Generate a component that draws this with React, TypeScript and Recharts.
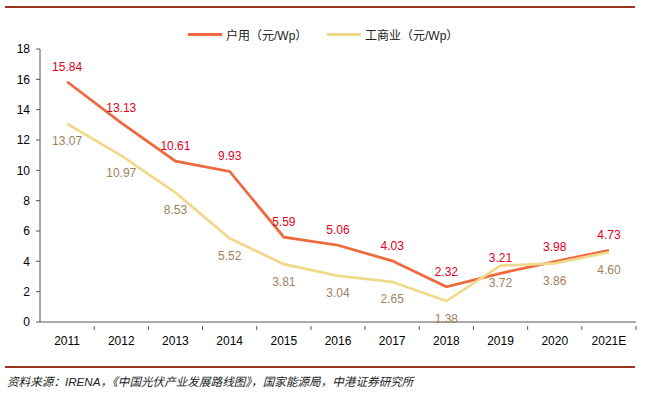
import { LabelList, Line, LineChart, XAxis, YAxis } from "recharts";

const years = ["2011", "2012", "2013", "2014", "2015", "2016", "2017", "2018", "2019", "2020", "2021E"];
const residential = [15.84, 13.13, 10.61, 9.93, 5.59, 5.06, 4.03, 2.32, 3.21, 3.98, 4.73];
const commercial = [13.07, 10.97, 8.53, 5.52, 3.81, 3.04, 2.65, 1.38, 3.72, 3.86, 4.6];
const yTicks = [0, 2, 4, 6, 8, 10, 12, 14, 16, 18];

const COLORS = {
  residential: "#ee6a3e",
  commercial: "#f1d98c",
  resLabel: "#e0001e",
  comLabel: "#a0815c",
  axis: "#555555",
  rule: "#9e3320",
};

const FONT = 'Arial, "Liberation Sans", "Noto Sans CJK SC", sans-serif';
const CHART_W = 645;
const PLOT_LEFT = 40;
const PLOT_RIGHT = 636;
const BAND = (PLOT_RIGHT - PLOT_LEFT) / years.length;

const chartData = years.map((year, i) => ({
  year,
  residential: residential[i],
  commercial: commercial[i],
}));

function YearTick(props: any) {
  const { x, y, payload } = props;
  return (
    <g>
      <line x1={x + BAND / 2} x2={x + BAND / 2} y1={y - 4} y2={y} stroke={COLORS.axis} strokeWidth={1} />
      <text x={x} y={y + 15} textAnchor="middle" fontSize={12} fill="#000" fontFamily={FONT}>
        {payload.value}
      </text>
    </g>
  );
}

function LegendItem({ color, label, left }: { color: string; label: string; left: number }) {
  return (
    <div style={{ position: "absolute", left, top: 26, display: "flex", alignItems: "center", height: 16 }}>
      <div style={{ width: 34, height: 3, background: color, marginRight: 4 }} />
      <span style={{ fontSize: 12, color: "#222", fontFamily: FONT, whiteSpace: "nowrap" }}>{label}</span>
    </div>
  );
}

export default function App() {
  return (
    <div style={{ position: "absolute", left: 0, top: 0, width: CHART_W, height: 398, background: "#fff" }}>
      <div style={{ position: "absolute", left: 5, top: 6, width: 630, height: 1.5, background: COLORS.rule }} />
      <LegendItem color={COLORS.residential} label="户用（元/Wp）" left={188} />
      <LegendItem color={COLORS.commercial} label="工商业（元/Wp）" left={327} />
      <LineChart
        width={CHART_W}
        height={352}
        data={chartData}
        margin={{ top: 49, right: CHART_W - PLOT_RIGHT, left: 0, bottom: 0 }}
        style={{ position: "absolute", left: 0, top: 0 }}
      >
        <XAxis
          dataKey="year"
          padding={{ left: BAND / 2, right: BAND / 2 }}
          tick={<YearTick />}
          tickLine={false}
          axisLine={{ stroke: COLORS.axis }}
          interval={0}
          height={30}
        />
        <YAxis
          domain={[0, 18]}
          ticks={yTicks}
          width={PLOT_LEFT}
          tick={{ fill: "#000", fontSize: 12, fontFamily: FONT }}
          tickSize={4}
          tickMargin={6}
          tickLine={{ stroke: COLORS.axis }}
          axisLine={{ stroke: COLORS.axis }}
        />
        <Line
          type="linear"
          dataKey="residential"
          stroke={COLORS.residential}
          strokeWidth={2.75}
          dot={false}
          isAnimationActive={false}
        >
          <LabelList
            dataKey="residential"
            position="top"
            offset={11}
            formatter={(v: any) => Number(v).toFixed(2)}
            style={{ fill: COLORS.resLabel, fontSize: 12, fontFamily: FONT }}
          />
        </Line>
        <Line
          type="linear"
          dataKey="commercial"
          stroke={COLORS.commercial}
          strokeWidth={2.75}
          dot={false}
          isAnimationActive={false}
        >
          <LabelList
            dataKey="commercial"
            position="bottom"
            offset={13}
            formatter={(v: any) => Number(v).toFixed(2)}
            style={{ fill: COLORS.comLabel, fontSize: 12, fontFamily: FONT }}
          />
        </Line>
      </LineChart>
      <div style={{ position: "absolute", left: 5, top: 366, width: 630, height: 1.5, background: COLORS.rule }} />
      <div
        style={{
          position: "absolute",
          left: 7,
          top: 373,
          fontSize: 11.6,
          fontStyle: "italic",
          color: "#222",
          fontFamily: FONT,
          whiteSpace: "nowrap",
        }}
      >
        资料来源：IRENA，《中国光伏产业发展路线图》，国家能源局，中港证券研究所
      </div>
    </div>
  );
}
